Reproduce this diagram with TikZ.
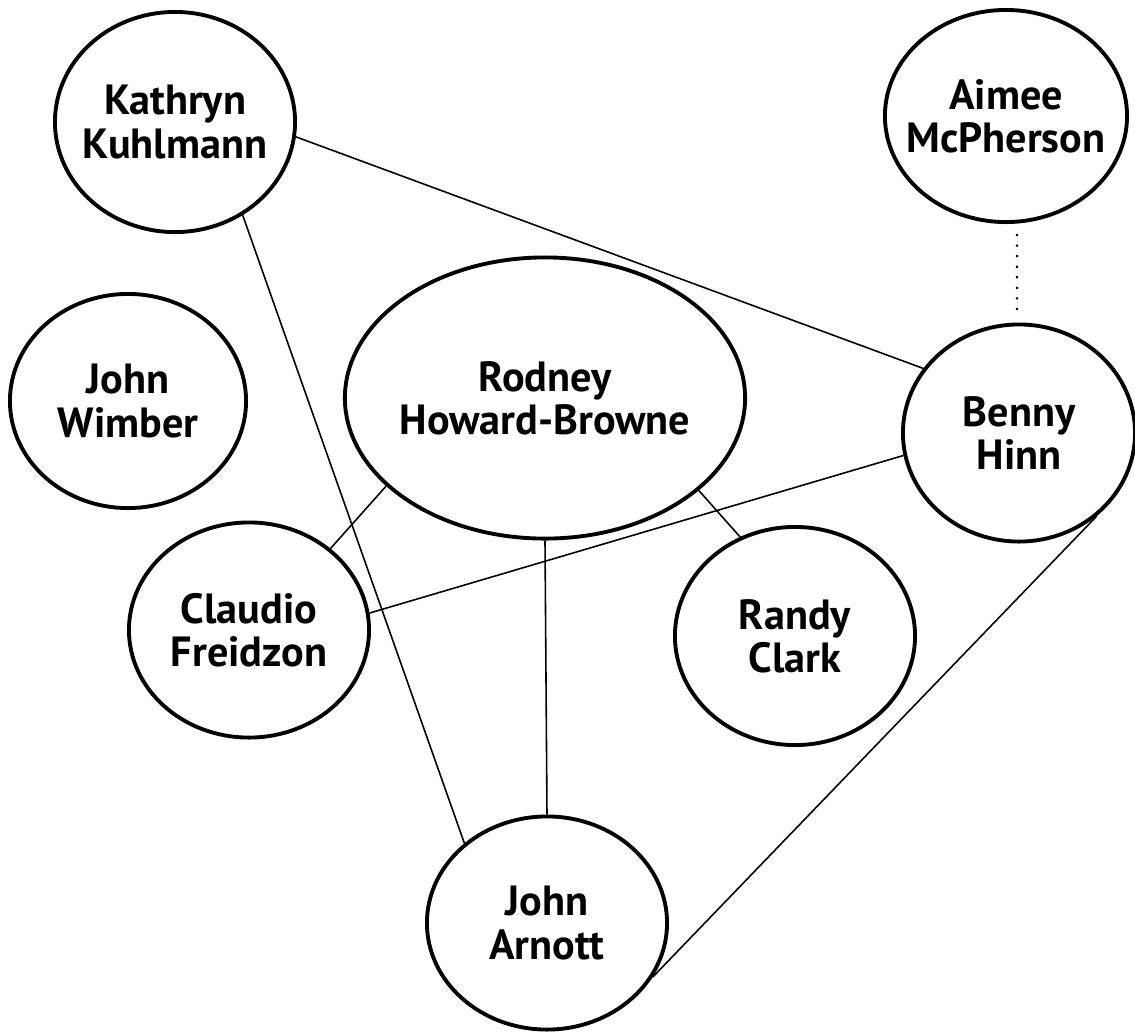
\documentclass[tikz,border=0pt]{standalone}
\usepackage{fontspec}
\setmainfont{PT Sans}
\usetikzlibrary{shapes.geometric}
\tikzset{
  person/.style={ellipse, draw=black, line width=1.1pt, inner xsep=-0.6cm, inner ysep=-0.3cm, align=center,
    font=\fontsize{12pt}{12.3pt}\selectfont\bfseries, fill=white},
  link/.style={draw=black, line width=0.45pt},
  dotlink/.style={draw=black, line width=0.6pt, dash pattern=on 0.6pt off 2.4pt}
}
\begin{document}
\begin{tikzpicture}[x=0.01cm, y=-0.01cm]
\fill[white] (0,0) rectangle (1135,1032);
\useasboundingbox (0,0) rectangle (1135,1032);

\node[person, minimum width=2.40cm, minimum height=2.20cm] (kk) at (175,122) {Kathryn\\Kuhlmann};
\node[person, minimum width=2.42cm, minimum height=2.12cm] (am) at (1006,116) {Aimee\\McPherson};
\node[person, minimum width=2.36cm, minimum height=2.14cm] (jw) at (128,401) {John\\Wimber};
\node[person, minimum width=4.00cm, minimum height=2.81cm] (rh) at (545,398) {Rodney\\Howard-Browne};
\node[person, minimum width=2.32cm, minimum height=2.17cm] (bh) at (1019,433) {Benny\\Hinn};
\node[person, minimum width=2.40cm, minimum height=2.15cm] (cf) at (249,630) {Claudio\\Freidzon};
\node[person, minimum width=2.40cm, minimum height=2.18cm] (rc) at (795,636) {Randy\\Clark};
\node[person, minimum width=2.40cm, minimum height=2.13cm] (ja) at (547,923) {John\\Arnott};

\draw[link] (kk.-7) -- (bh.146);
\draw[link] (kk.-54) -- (ja.136);
\draw[link] (rh.209) -- (cf.45);
\draw[link] (rh.-31) -- (rc.119);
\draw[link] (rh.south) -- (ja.north);
\draw[link] (bh.191) -- (cf.8);
\draw[link] (bh.-47) -- (ja.-27);
\draw[dotlink] ([xshift=0.11cm, yshift=-0.1cm]am.south) -- ([xshift=-0.02cm, yshift=0.1cm]bh.north);
\end{tikzpicture}
\end{document}
